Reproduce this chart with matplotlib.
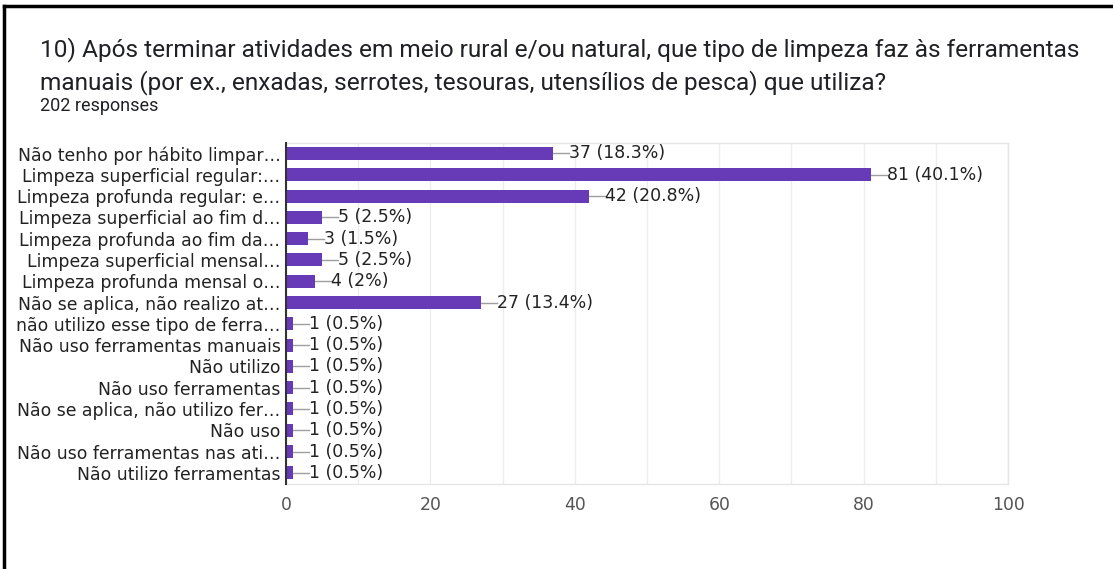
import matplotlib
matplotlib.use("Agg")
from matplotlib import pyplot as plt
from matplotlib.lines import Line2D
import numpy as np

categorias = [
    "Não tenho por hábito limpar…",
    "Limpeza superficial regular:…",
    "Limpeza profunda regular: e…",
    "Limpeza superficial ao fim d…",
    "Limpeza profunda ao fim da…",
    "Limpeza superficial mensal…",
    "Limpeza profunda mensal o…",
    "Não se aplica, não realizo at…",
    "não utilizo esse tipo de ferra…",
    "Não uso ferramentas manuais",
    "Não utilizo",
    "Não uso ferramentas",
    "Não se aplica, não utilizo fer…",
    "Não uso",
    "Não uso ferramentas nas ati…",
    "Não utilizo ferramentas",
]
valores = [37, 81, 42, 5, 3, 5, 4, 27, 1, 1, 1, 1, 1, 1, 1, 1]
percentagens = ["18.3%", "40.1%", "20.8%", "2.5%", "1.5%", "2.5%", "2%", "13.4%",
                "0.5%", "0.5%", "0.5%", "0.5%", "0.5%", "0.5%", "0.5%", "0.5%"]
ticks_x = [0, 20, 40, 60, 80, 100]

W, H = 1113, 569
fig = plt.figure(figsize=(W / 100, H / 100), dpi=100)
fig.patch.set_facecolor("white")

ax = fig.add_axes([286 / W, 1 - 483.5 / H, (1008 - 286) / W, (483.5 - 142.8) / H])

y = np.arange(len(categorias))
ax.barh(y, valores, height=0.61, color="#673ab7", zorder=3)
ax.set_ylim(len(categorias) - 0.5, -0.5)
ax.set_xlim(0, 100)

fonte = "DejaVu Sans"
# rótulos com linha de ligação
for i, (v, p) in enumerate(zip(valores, percentagens)):
    ax.plot([v, v + 2.2], [i, i], color="#9e9e9e", lw=1, zorder=2)
    ax.text(v + 2.2, i, f"{v} ({p})", va="center", ha="left",
            fontsize=12.5, color="#222222", family=fonte)

ax.set_yticks(y)
ax.set_yticklabels(categorias, fontsize=12.4, color="#222222", family=fonte)
ax.set_xticks(ticks_x)
ax.set_xticklabels([str(t) for t in ticks_x], fontsize=12.4, color="#555555",
                   family=fonte)
ax.set_xticks(np.arange(10, 100, 20), minor=True)
ax.tick_params(axis="both", which="both", length=0)
ax.tick_params(axis="x", pad=9)
ax.tick_params(axis="y", pad=4)
ax.grid(axis="x", which="both", color="#ececec", lw=1, zorder=0)

for lado in ["top", "right", "bottom"]:
    ax.spines[lado].set_color("#e6e6e6")
    ax.spines[lado].set_linewidth(1)
ax.spines["left"].set_color("#333333")
ax.spines["left"].set_linewidth(1.5)
ax.spines["left"].set_zorder(4)

fig.text(40 / W, 1 - 50 / H,
         "10) Após terminar atividades em meio rural e/ou natural, que tipo de limpeza faz às ferramentas",
         fontsize=17.55, color="#202124", family="Roboto", va="center", ha="left")
fig.text(40 / W, 1 - 83 / H,
         "manuais (por ex., enxadas, serrotes, tesouras, utensílios de pesca) que utiliza?",
         fontsize=17.55, color="#202124", family="Roboto", va="center", ha="left")
fig.text(40 / W, 1 - 106 / H, "202 responses", fontsize=13, color="#202124",
         family="Roboto", va="center", ha="left")

# moldura preta
fig.add_artist(Line2D([4 / W, 4 / W], [0, 1 - 6 / H], color="black", lw=2.5))
fig.add_artist(Line2D([4 / W, 1], [1 - 6 / H, 1 - 6 / H], color="black", lw=2.5))

fig.savefig("out.png", dpi=100)
